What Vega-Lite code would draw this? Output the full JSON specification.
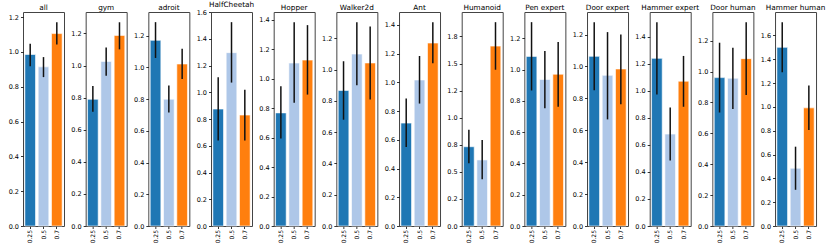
{
  "$schema": "https://vega.github.io/schema/vega-lite/v6.json",
  "background": "white",
  "padding": {"left": 7, "top": 0, "right": 5, "bottom": 0},
  "bounds": "flush",
  "spacing": 21.67,
  "data": {"values": [
    {"panel": "all", "ratio": "0.25", "value": 0.985, "lo": 0.918, "hi": 1.046},
    {"panel": "all", "ratio": "0.5", "value": 0.914, "lo": 0.855, "hi": 0.970},
    {"panel": "all", "ratio": "0.7", "value": 1.105, "lo": 1.042, "hi": 1.170},
    {"panel": "gym", "ratio": "0.25", "value": 0.790, "lo": 0.712, "hi": 0.873},
    {"panel": "gym", "ratio": "0.5", "value": 1.026, "lo": 0.937, "hi": 1.113},
    {"panel": "gym", "ratio": "0.7", "value": 1.188, "lo": 1.101, "hi": 1.270},
    {"panel": "adroit", "ratio": "0.25", "value": 1.171, "lo": 1.060, "hi": 1.286},
    {"panel": "adroit", "ratio": "0.5", "value": 0.800, "lo": 0.716, "hi": 0.886},
    {"panel": "adroit", "ratio": "0.7", "value": 1.022, "lo": 0.928, "hi": 1.118},
    {"panel": "HalfCheetah", "ratio": "0.25", "value": 0.875, "lo": 0.639, "hi": 1.113},
    {"panel": "HalfCheetah", "ratio": "0.5", "value": 1.297, "lo": 1.073, "hi": 1.525},
    {"panel": "HalfCheetah", "ratio": "0.7", "value": 0.830, "lo": 0.639, "hi": 1.019},
    {"panel": "Hopper", "ratio": "0.25", "value": 0.767, "lo": 0.594, "hi": 0.948},
    {"panel": "Hopper", "ratio": "0.5", "value": 1.105, "lo": 0.835, "hi": 1.382},
    {"panel": "Hopper", "ratio": "0.7", "value": 1.125, "lo": 0.891, "hi": 1.362},
    {"panel": "Walker2d", "ratio": "0.25", "value": 0.867, "lo": 0.680, "hi": 1.054},
    {"panel": "Walker2d", "ratio": "0.5", "value": 1.100, "lo": 0.901, "hi": 1.304},
    {"panel": "Walker2d", "ratio": "0.7", "value": 1.043, "lo": 0.809, "hi": 1.277},
    {"panel": "Ant", "ratio": "0.25", "value": 0.716, "lo": 0.550, "hi": 0.887},
    {"panel": "Ant", "ratio": "0.5", "value": 1.016, "lo": 0.852, "hi": 1.183},
    {"panel": "Ant", "ratio": "0.7", "value": 1.273, "lo": 1.132, "hi": 1.418},
    {"panel": "Humanoid", "ratio": "0.25", "value": 0.732, "lo": 0.579, "hi": 0.889},
    {"panel": "Humanoid", "ratio": "0.5", "value": 0.610, "lo": 0.432, "hi": 0.794},
    {"panel": "Humanoid", "ratio": "0.7", "value": 1.661, "lo": 1.443, "hi": 1.882},
    {"panel": "Pen expert", "ratio": "0.25", "value": 1.085, "lo": 0.867, "hi": 1.304},
    {"panel": "Pen expert", "ratio": "0.5", "value": 0.937, "lo": 0.754, "hi": 1.119},
    {"panel": "Pen expert", "ratio": "0.7", "value": 0.971, "lo": 0.763, "hi": 1.177},
    {"panel": "Door expert", "ratio": "0.25", "value": 1.063, "lo": 0.851, "hi": 1.277},
    {"panel": "Door expert", "ratio": "0.5", "value": 0.944, "lo": 0.668, "hi": 1.215},
    {"panel": "Door expert", "ratio": "0.7", "value": 0.984, "lo": 0.763, "hi": 1.200},
    {"panel": "Hammer expert", "ratio": "0.25", "value": 1.240, "lo": 0.973, "hi": 1.508},
    {"panel": "Hammer expert", "ratio": "0.5", "value": 0.680, "lo": 0.484, "hi": 0.877},
    {"panel": "Hammer expert", "ratio": "0.7", "value": 1.071, "lo": 0.882, "hi": 1.258},
    {"panel": "Door human", "ratio": "0.25", "value": 0.961, "lo": 0.735, "hi": 1.187},
    {"panel": "Door human", "ratio": "0.5", "value": 0.957, "lo": 0.757, "hi": 1.155},
    {"panel": "Door human", "ratio": "0.7", "value": 1.084, "lo": 0.849, "hi": 1.320},
    {"panel": "Hammer human", "ratio": "0.25", "value": 1.500, "lo": 1.291, "hi": 1.711},
    {"panel": "Hammer human", "ratio": "0.5", "value": 0.485, "lo": 0.304, "hi": 0.666},
    {"panel": "Hammer human", "ratio": "0.7", "value": 0.992, "lo": 0.806, "hi": 1.179}
  ]},
  "resolve": {"scale": {"y": "independent"}, "axis": {"y": "independent"}},
  "hconcat": [
    {"title": "all", "width": 41, "height": 214, "transform": [{"filter": "datum.panel === 'all'"}],
     "encoding": {"x": {"field": "ratio", "type": "nominal", "sort": ["0.25", "0.5", "0.7"], "axis": {"title": null}, "scale": {"paddingInner": 0.2, "paddingOuter": 0.14}}},
     "layer": [
       {"mark": {"type": "bar", "stroke": "white", "strokeWidth": 0.6}, "encoding": {"y": {"field": "value", "type": "quantitative", "scale": {"domain": [0, 1.229], "nice": false}, "axis": {"title": null, "values": [0, 0.2, 0.4, 0.6, 0.8, 1.0, 1.2], "format": ".1f", "labelOverlap": false}}, "color": {"field": "ratio", "type": "nominal", "scale": {"domain": ["0.25", "0.5", "0.7"], "range": ["#1f77b4", "#aec7e8", "#ff7f0e"]}, "legend": null}}},
       {"mark": {"type": "rule", "color": "#111", "strokeWidth": 1.5}, "encoding": {"y": {"field": "lo", "type": "quantitative", "scale": {"domain": [0, 1.229], "nice": false}, "axis": {"title": null, "values": [0, 0.2, 0.4, 0.6, 0.8, 1.0, 1.2], "format": ".1f", "labelOverlap": false}}, "y2": {"field": "hi"}}}
     ]},
    {"title": "gym", "width": 41, "height": 214, "transform": [{"filter": "datum.panel === 'gym'"}],
     "encoding": {"x": {"field": "ratio", "type": "nominal", "sort": ["0.25", "0.5", "0.7"], "axis": {"title": null}, "scale": {"paddingInner": 0.2, "paddingOuter": 0.14}}},
     "layer": [
       {"mark": {"type": "bar", "stroke": "white", "strokeWidth": 0.6}, "encoding": {"y": {"field": "value", "type": "quantitative", "scale": {"domain": [0, 1.334], "nice": false}, "axis": {"title": null, "values": [0, 0.2, 0.4, 0.6, 0.8, 1.0, 1.2], "format": ".1f", "labelOverlap": false}}, "color": {"field": "ratio", "type": "nominal", "scale": {"domain": ["0.25", "0.5", "0.7"], "range": ["#1f77b4", "#aec7e8", "#ff7f0e"]}, "legend": null}}},
       {"mark": {"type": "rule", "color": "#111", "strokeWidth": 1.5}, "encoding": {"y": {"field": "lo", "type": "quantitative", "scale": {"domain": [0, 1.334], "nice": false}, "axis": {"title": null, "values": [0, 0.2, 0.4, 0.6, 0.8, 1.0, 1.2], "format": ".1f", "labelOverlap": false}}, "y2": {"field": "hi"}}}
     ]},
    {"title": "adroit", "width": 41, "height": 214, "transform": [{"filter": "datum.panel === 'adroit'"}],
     "encoding": {"x": {"field": "ratio", "type": "nominal", "sort": ["0.25", "0.5", "0.7"], "axis": {"title": null}, "scale": {"paddingInner": 0.2, "paddingOuter": 0.14}}},
     "layer": [
       {"mark": {"type": "bar", "stroke": "white", "strokeWidth": 0.6}, "encoding": {"y": {"field": "value", "type": "quantitative", "scale": {"domain": [0, 1.350], "nice": false}, "axis": {"title": null, "values": [0, 0.2, 0.4, 0.6, 0.8, 1.0, 1.2], "format": ".1f", "labelOverlap": false}}, "color": {"field": "ratio", "type": "nominal", "scale": {"domain": ["0.25", "0.5", "0.7"], "range": ["#1f77b4", "#aec7e8", "#ff7f0e"]}, "legend": null}}},
       {"mark": {"type": "rule", "color": "#111", "strokeWidth": 1.5}, "encoding": {"y": {"field": "lo", "type": "quantitative", "scale": {"domain": [0, 1.350], "nice": false}, "axis": {"title": null, "values": [0, 0.2, 0.4, 0.6, 0.8, 1.0, 1.2], "format": ".1f", "labelOverlap": false}}, "y2": {"field": "hi"}}}
     ]},
    {"title": "HalfCheetah", "width": 41, "height": 214, "transform": [{"filter": "datum.panel === 'HalfCheetah'"}],
     "encoding": {"x": {"field": "ratio", "type": "nominal", "sort": ["0.25", "0.5", "0.7"], "axis": {"title": null}, "scale": {"paddingInner": 0.2, "paddingOuter": 0.14}}},
     "layer": [
       {"mark": {"type": "bar", "stroke": "white", "strokeWidth": 0.6}, "encoding": {"y": {"field": "value", "type": "quantitative", "scale": {"domain": [0, 1.601], "nice": false}, "axis": {"title": null, "values": [0, 0.2, 0.4, 0.6, 0.8, 1.0, 1.2, 1.4, 1.6], "format": ".1f", "labelOverlap": false}}, "color": {"field": "ratio", "type": "nominal", "scale": {"domain": ["0.25", "0.5", "0.7"], "range": ["#1f77b4", "#aec7e8", "#ff7f0e"]}, "legend": null}}},
       {"mark": {"type": "rule", "color": "#111", "strokeWidth": 1.5}, "encoding": {"y": {"field": "lo", "type": "quantitative", "scale": {"domain": [0, 1.601], "nice": false}, "axis": {"title": null, "values": [0, 0.2, 0.4, 0.6, 0.8, 1.0, 1.2, 1.4, 1.6], "format": ".1f", "labelOverlap": false}}, "y2": {"field": "hi"}}}
     ]},
    {"title": "Hopper", "width": 41, "height": 214, "transform": [{"filter": "datum.panel === 'Hopper'"}],
     "encoding": {"x": {"field": "ratio", "type": "nominal", "sort": ["0.25", "0.5", "0.7"], "axis": {"title": null}, "scale": {"paddingInner": 0.2, "paddingOuter": 0.14}}},
     "layer": [
       {"mark": {"type": "bar", "stroke": "white", "strokeWidth": 0.6}, "encoding": {"y": {"field": "value", "type": "quantitative", "scale": {"domain": [0, 1.451], "nice": false}, "axis": {"title": null, "values": [0, 0.2, 0.4, 0.6, 0.8, 1.0, 1.2, 1.4], "format": ".1f", "labelOverlap": false}}, "color": {"field": "ratio", "type": "nominal", "scale": {"domain": ["0.25", "0.5", "0.7"], "range": ["#1f77b4", "#aec7e8", "#ff7f0e"]}, "legend": null}}},
       {"mark": {"type": "rule", "color": "#111", "strokeWidth": 1.5}, "encoding": {"y": {"field": "lo", "type": "quantitative", "scale": {"domain": [0, 1.451], "nice": false}, "axis": {"title": null, "values": [0, 0.2, 0.4, 0.6, 0.8, 1.0, 1.2, 1.4], "format": ".1f", "labelOverlap": false}}, "y2": {"field": "hi"}}}
     ]},
    {"title": "Walker2d", "width": 41, "height": 214, "transform": [{"filter": "datum.panel === 'Walker2d'"}],
     "encoding": {"x": {"field": "ratio", "type": "nominal", "sort": ["0.25", "0.5", "0.7"], "axis": {"title": null}, "scale": {"paddingInner": 0.2, "paddingOuter": 0.14}}},
     "layer": [
       {"mark": {"type": "bar", "stroke": "white", "strokeWidth": 0.6}, "encoding": {"y": {"field": "value", "type": "quantitative", "scale": {"domain": [0, 1.369], "nice": false}, "axis": {"title": null, "values": [0, 0.2, 0.4, 0.6, 0.8, 1.0, 1.2], "format": ".1f", "labelOverlap": false}}, "color": {"field": "ratio", "type": "nominal", "scale": {"domain": ["0.25", "0.5", "0.7"], "range": ["#1f77b4", "#aec7e8", "#ff7f0e"]}, "legend": null}}},
       {"mark": {"type": "rule", "color": "#111", "strokeWidth": 1.5}, "encoding": {"y": {"field": "lo", "type": "quantitative", "scale": {"domain": [0, 1.369], "nice": false}, "axis": {"title": null, "values": [0, 0.2, 0.4, 0.6, 0.8, 1.0, 1.2], "format": ".1f", "labelOverlap": false}}, "y2": {"field": "hi"}}}
     ]},
    {"title": "Ant", "width": 41, "height": 214, "transform": [{"filter": "datum.panel === 'Ant'"}],
     "encoding": {"x": {"field": "ratio", "type": "nominal", "sort": ["0.25", "0.5", "0.7"], "axis": {"title": null}, "scale": {"paddingInner": 0.2, "paddingOuter": 0.14}}},
     "layer": [
       {"mark": {"type": "bar", "stroke": "white", "strokeWidth": 0.6}, "encoding": {"y": {"field": "value", "type": "quantitative", "scale": {"domain": [0, 1.489], "nice": false}, "axis": {"title": null, "values": [0, 0.2, 0.4, 0.6, 0.8, 1.0, 1.2, 1.4], "format": ".1f", "labelOverlap": false}}, "color": {"field": "ratio", "type": "nominal", "scale": {"domain": ["0.25", "0.5", "0.7"], "range": ["#1f77b4", "#aec7e8", "#ff7f0e"]}, "legend": null}}},
       {"mark": {"type": "rule", "color": "#111", "strokeWidth": 1.5}, "encoding": {"y": {"field": "lo", "type": "quantitative", "scale": {"domain": [0, 1.489], "nice": false}, "axis": {"title": null, "values": [0, 0.2, 0.4, 0.6, 0.8, 1.0, 1.2, 1.4], "format": ".1f", "labelOverlap": false}}, "y2": {"field": "hi"}}}
     ]},
    {"title": "Humanoid", "width": 41, "height": 214, "transform": [{"filter": "datum.panel === 'Humanoid'"}],
     "encoding": {"x": {"field": "ratio", "type": "nominal", "sort": ["0.25", "0.5", "0.7"], "axis": {"title": null}, "scale": {"paddingInner": 0.2, "paddingOuter": 0.14}}},
     "layer": [
       {"mark": {"type": "bar", "stroke": "white", "strokeWidth": 0.6}, "encoding": {"y": {"field": "value", "type": "quantitative", "scale": {"domain": [0, 1.976], "nice": false}, "axis": {"title": null, "values": [0, 0.25, 0.5, 0.75, 1.0, 1.25, 1.5, 1.75], "labelOverlap": false, "labelExpr": "datum.value == 0.25 ? '0.2' : datum.value == 1.25 ? '1.2' : format(datum.value, '.1f')"}}, "color": {"field": "ratio", "type": "nominal", "scale": {"domain": ["0.25", "0.5", "0.7"], "range": ["#1f77b4", "#aec7e8", "#ff7f0e"]}, "legend": null}}},
       {"mark": {"type": "rule", "color": "#111", "strokeWidth": 1.5}, "encoding": {"y": {"field": "lo", "type": "quantitative", "scale": {"domain": [0, 1.976], "nice": false}, "axis": {"title": null, "values": [0, 0.25, 0.5, 0.75, 1.0, 1.25, 1.5, 1.75], "labelOverlap": false, "labelExpr": "datum.value == 0.25 ? '0.2' : datum.value == 1.25 ? '1.2' : format(datum.value, '.1f')"}}, "y2": {"field": "hi"}}}
     ]},
    {"title": "Pen expert", "width": 41, "height": 214, "transform": [{"filter": "datum.panel === 'Pen expert'"}],
     "encoding": {"x": {"field": "ratio", "type": "nominal", "sort": ["0.25", "0.5", "0.7"], "axis": {"title": null}, "scale": {"paddingInner": 0.2, "paddingOuter": 0.14}}},
     "layer": [
       {"mark": {"type": "bar", "stroke": "white", "strokeWidth": 0.6}, "encoding": {"y": {"field": "value", "type": "quantitative", "scale": {"domain": [0, 1.369], "nice": false}, "axis": {"title": null, "values": [0, 0.2, 0.4, 0.6, 0.8, 1.0, 1.2], "format": ".1f", "labelOverlap": false}}, "color": {"field": "ratio", "type": "nominal", "scale": {"domain": ["0.25", "0.5", "0.7"], "range": ["#1f77b4", "#aec7e8", "#ff7f0e"]}, "legend": null}}},
       {"mark": {"type": "rule", "color": "#111", "strokeWidth": 1.5}, "encoding": {"y": {"field": "lo", "type": "quantitative", "scale": {"domain": [0, 1.369], "nice": false}, "axis": {"title": null, "values": [0, 0.2, 0.4, 0.6, 0.8, 1.0, 1.2], "format": ".1f", "labelOverlap": false}}, "y2": {"field": "hi"}}}
     ]},
    {"title": "Door expert", "width": 41, "height": 214, "transform": [{"filter": "datum.panel === 'Door expert'"}],
     "encoding": {"x": {"field": "ratio", "type": "nominal", "sort": ["0.25", "0.5", "0.7"], "axis": {"title": null}, "scale": {"paddingInner": 0.2, "paddingOuter": 0.14}}},
     "layer": [
       {"mark": {"type": "bar", "stroke": "white", "strokeWidth": 0.6}, "encoding": {"y": {"field": "value", "type": "quantitative", "scale": {"domain": [0, 1.341], "nice": false}, "axis": {"title": null, "values": [0, 0.2, 0.4, 0.6, 0.8, 1.0, 1.2], "format": ".1f", "labelOverlap": false}}, "color": {"field": "ratio", "type": "nominal", "scale": {"domain": ["0.25", "0.5", "0.7"], "range": ["#1f77b4", "#aec7e8", "#ff7f0e"]}, "legend": null}}},
       {"mark": {"type": "rule", "color": "#111", "strokeWidth": 1.5}, "encoding": {"y": {"field": "lo", "type": "quantitative", "scale": {"domain": [0, 1.341], "nice": false}, "axis": {"title": null, "values": [0, 0.2, 0.4, 0.6, 0.8, 1.0, 1.2], "format": ".1f", "labelOverlap": false}}, "y2": {"field": "hi"}}}
     ]},
    {"title": "Hammer expert", "width": 41, "height": 214, "transform": [{"filter": "datum.panel === 'Hammer expert'"}],
     "encoding": {"x": {"field": "ratio", "type": "nominal", "sort": ["0.25", "0.5", "0.7"], "axis": {"title": null}, "scale": {"paddingInner": 0.2, "paddingOuter": 0.14}}},
     "layer": [
       {"mark": {"type": "bar", "stroke": "white", "strokeWidth": 0.6}, "encoding": {"y": {"field": "value", "type": "quantitative", "scale": {"domain": [0, 1.583], "nice": false}, "axis": {"title": null, "values": [0, 0.2, 0.4, 0.6, 0.8, 1.0, 1.2, 1.4], "format": ".1f", "labelOverlap": false}}, "color": {"field": "ratio", "type": "nominal", "scale": {"domain": ["0.25", "0.5", "0.7"], "range": ["#1f77b4", "#aec7e8", "#ff7f0e"]}, "legend": null}}},
       {"mark": {"type": "rule", "color": "#111", "strokeWidth": 1.5}, "encoding": {"y": {"field": "lo", "type": "quantitative", "scale": {"domain": [0, 1.583], "nice": false}, "axis": {"title": null, "values": [0, 0.2, 0.4, 0.6, 0.8, 1.0, 1.2, 1.4], "format": ".1f", "labelOverlap": false}}, "y2": {"field": "hi"}}}
     ]},
    {"title": "Door human", "width": 41, "height": 214, "transform": [{"filter": "datum.panel === 'Door human'"}],
     "encoding": {"x": {"field": "ratio", "type": "nominal", "sort": ["0.25", "0.5", "0.7"], "axis": {"title": null}, "scale": {"paddingInner": 0.2, "paddingOuter": 0.14}}},
     "layer": [
       {"mark": {"type": "bar", "stroke": "white", "strokeWidth": 0.6}, "encoding": {"y": {"field": "value", "type": "quantitative", "scale": {"domain": [0, 1.386], "nice": false}, "axis": {"title": null, "values": [0, 0.2, 0.4, 0.6, 0.8, 1.0, 1.2], "format": ".1f", "labelOverlap": false}}, "color": {"field": "ratio", "type": "nominal", "scale": {"domain": ["0.25", "0.5", "0.7"], "range": ["#1f77b4", "#aec7e8", "#ff7f0e"]}, "legend": null}}},
       {"mark": {"type": "rule", "color": "#111", "strokeWidth": 1.5}, "encoding": {"y": {"field": "lo", "type": "quantitative", "scale": {"domain": [0, 1.386], "nice": false}, "axis": {"title": null, "values": [0, 0.2, 0.4, 0.6, 0.8, 1.0, 1.2], "format": ".1f", "labelOverlap": false}}, "y2": {"field": "hi"}}}
     ]},
    {"title": "Hammer human", "width": 41, "height": 214, "transform": [{"filter": "datum.panel === 'Hammer human'"}],
     "encoding": {"x": {"field": "ratio", "type": "nominal", "sort": ["0.25", "0.5", "0.7"], "axis": {"title": null}, "scale": {"paddingInner": 0.2, "paddingOuter": 0.14}}},
     "layer": [
       {"mark": {"type": "bar", "stroke": "white", "strokeWidth": 0.6}, "encoding": {"y": {"field": "value", "type": "quantitative", "scale": {"domain": [0, 1.797], "nice": false}, "axis": {"title": null, "values": [0, 0.2, 0.4, 0.6, 0.8, 1.0, 1.2, 1.4, 1.6], "format": ".1f", "labelOverlap": false}}, "color": {"field": "ratio", "type": "nominal", "scale": {"domain": ["0.25", "0.5", "0.7"], "range": ["#1f77b4", "#aec7e8", "#ff7f0e"]}, "legend": null}}},
       {"mark": {"type": "rule", "color": "#111", "strokeWidth": 1.5}, "encoding": {"y": {"field": "lo", "type": "quantitative", "scale": {"domain": [0, 1.797], "nice": false}, "axis": {"title": null, "values": [0, 0.2, 0.4, 0.6, 0.8, 1.0, 1.2, 1.4, 1.6], "format": ".1f", "labelOverlap": false}}, "y2": {"field": "hi"}}}
     ]}
  ],
  "config": {
    "font": "DejaVu Sans",
    "view": {"stroke": "#444", "strokeWidth": 1},
    "axis": {"labelFont": "DejaVu Sans", "labelFontSize": 6.5, "labelColor": "#000", "tickColor": "#000", "tickSize": 2.5, "tickWidth": 0.8, "grid": false, "domain": false, "labelPadding": 2, "labelOverlap": false, "labelFlush": false, "labelBound": false},
    "axisX": {"labelAngle": 270, "labelFontSize": 6, "labelPadding": 1},
    "title": {"font": "DejaVu Sans", "fontSize": 7.3, "fontWeight": "normal", "color": "#000", "offset": 1}
  }
}
